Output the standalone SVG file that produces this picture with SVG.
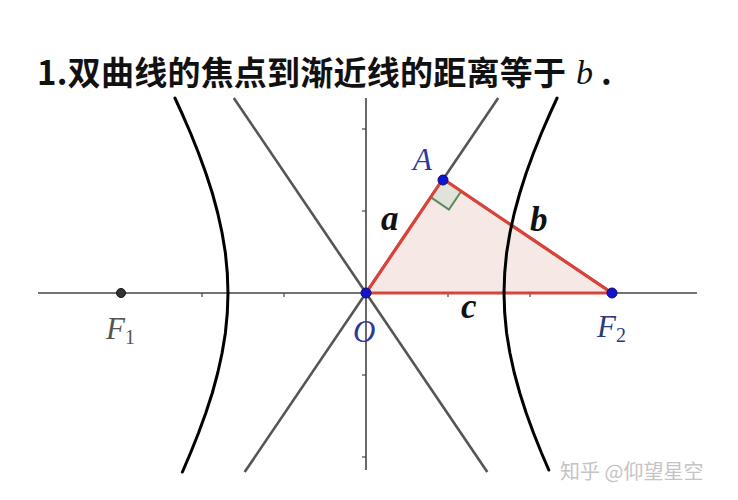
<svg xmlns="http://www.w3.org/2000/svg" width="738" height="500" viewBox="0 0 738 500">
<style>
.axis{stroke:#454545;stroke-width:1.6;fill:none}
.tick{stroke:#454545;stroke-width:1.2}
.hyp{stroke:#000;stroke-width:3;fill:none;stroke-linejoin:round;stroke-linecap:round}
.asym{stroke:#555;stroke-width:2.6;fill:none}
.tri{stroke:#d8443b;stroke-width:3;fill:#f6e8e5;stroke-linejoin:round}
.pt{fill:#1414c8;stroke:#0a0a80;stroke-width:1}
.lbl{font-family:"Liberation Serif",serif;font-style:italic;font-size:31px}
.seg{font-family:"Liberation Serif",serif;font-style:italic;font-weight:bold;font-size:35px;fill:#111}
.title{font-family:"Noto Sans CJK SC","Noto Sans",sans-serif;font-weight:bold;font-size:33px;fill:#111}
</style>
<rect width="738" height="500" fill="#fff"/>
<g id="title">
<text class="title" x="37" y="85" textLength="529" lengthAdjust="spacing">1.双曲线的焦点到渐近线的距离等于</text>
<text x="576" y="84" style="font-family:'Liberation Serif',serif;font-style:italic;font-size:34px;fill:#111">b</text>
<text class="title" x="601" y="85">.</text>
</g>
<g id="axes">
<line class="axis" x1="38" y1="293" x2="697" y2="293"/>
<line class="axis" x1="366" y1="98" x2="366" y2="470"/>
<line class="tick" x1="120" y1="293" x2="120" y2="297"/>
<line class="tick" x1="202" y1="293" x2="202" y2="297"/>
<line class="tick" x1="284" y1="293" x2="284" y2="297"/>
<line class="tick" x1="448" y1="293" x2="448" y2="297"/>
<line class="tick" x1="530" y1="293" x2="530" y2="297"/>
<line class="tick" x1="362" y1="211" x2="366" y2="211"/>
<line class="tick" x1="362" y1="129" x2="366" y2="129"/>
<line class="tick" x1="362" y1="375" x2="366" y2="375"/>
<line class="tick" x1="362" y1="457" x2="366" y2="457"/>
</g>
<g id="asymptotes">
<line class="asym" x1="233.8" y1="98" x2="487.3" y2="472"/>
<line class="asym" x1="498.2" y1="98" x2="244.7" y2="472"/>
</g>
<g id="triangle">
<polygon class="tri" points="366,293 443,179 612,293"/>
<polygon points="443,179 430.7,197.2 448.9,209.5 461.2,191.3" fill="#dfe3d9" stroke="#5c8a5c" stroke-width="2"/>
<line x1="443" y1="179" x2="366" y2="293" stroke="#d8443b" stroke-width="3"/>
<line x1="443" y1="179" x2="612" y2="293" stroke="#d8443b" stroke-width="3"/>
</g>
<g id="hyperbola-left">
<path class="hyp" d="M174.9,98 L181.8,113 L190.5,133 L198.5,153 L205.8,173 L212.3,193 L217.7,213 L222.1,233 L225.4,253 L227.3,273 L228,293 L227.3,313 L225.4,333 L222.1,353 L217.7,373 L212.3,393 L205.8,413 L198.5,433 L190.5,453 L182.4,472"/>
</g>
<g id="hyperbola-right">
<path class="hyp" d="M557.1,98 L550.2,113 L541.5,133 L533.5,153 L526.2,173 L519.8,193 L514.3,213 L509.9,233 L506.6,253 L504.7,273 L504,293 L504.7,313 L506.6,333 L509.9,353 L514.3,373 L519.8,393 L526.2,413 L533.5,433 L541.5,453 L548.8,470"/>
</g>
<g id="point-F1">
<circle cx="121" cy="293" r="4.5" fill="#333" stroke="#111" stroke-width="1"/>
<text class="lbl" x="106" y="339" fill="#555">F<tspan font-size="20" font-style="normal" dy="5">1</tspan></text>
</g>
<g id="point-O">
<circle class="pt" cx="366" cy="293" r="5"/>
<text class="lbl" x="353" y="342" fill="#2a3a9a">O</text>
</g>
<g id="point-A">
<circle class="pt" cx="443" cy="180" r="5"/>
<text class="lbl" x="413" y="170" fill="#2a3a9a">A</text>
</g>
<g id="point-F2">
<circle class="pt" cx="612" cy="293" r="5"/>
<text class="lbl" x="597" y="337" fill="#2a3a80">F<tspan font-size="20" font-style="normal" dy="5">2</tspan></text>
</g>
<g id="labels">
<text class="seg" x="381" y="230">a</text>
<text class="seg" x="530" y="231">b</text>
<text class="seg" x="461" y="318">c</text>
</g>
<g id="watermark">
<text x="560" y="479" style="font-family:'Noto Sans CJK SC',sans-serif;font-size:20px;fill:#c4c4c4">知乎 @仰望星空</text>
</g>
</svg>
